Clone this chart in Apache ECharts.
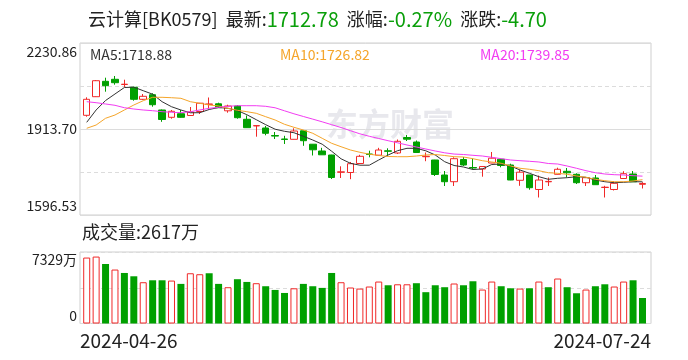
<!DOCTYPE html>
<html><head><meta charset="utf-8">
<script src="https://cdn.jsdelivr.net/npm/echarts@6/dist/echarts.min.js"></script>
<style>html,body{margin:0;padding:0;background:#fff}#c{width:688px;height:360px}</style>
</head><body><div id="c"></div>
<script>
// ---------------- data ----------------
const stockName = '云计算[BK0579]';
const latestPrice = '1712.78';
const changePct = '-0.27%';
const changeAmt = '-4.70';
const lastVolumeText = '2617万';

const dates = ['2024-04-26','2024-04-29','2024-04-30','2024-05-06','2024-05-07','2024-05-08','2024-05-09','2024-05-10',
 '2024-05-13','2024-05-14','2024-05-15','2024-05-16','2024-05-17','2024-05-20','2024-05-21','2024-05-22','2024-05-23','2024-05-24',
 '2024-05-27','2024-05-28','2024-05-29','2024-05-30','2024-05-31','2024-06-03','2024-06-04','2024-06-05','2024-06-06','2024-06-07',
 '2024-06-11','2024-06-12','2024-06-13','2024-06-14','2024-06-17','2024-06-18','2024-06-19','2024-06-20','2024-06-21',
 '2024-06-24','2024-06-25','2024-06-26','2024-06-27','2024-06-28','2024-07-01','2024-07-02','2024-07-03','2024-07-04','2024-07-05',
 '2024-07-08','2024-07-09','2024-07-10','2024-07-11','2024-07-12','2024-07-15','2024-07-16','2024-07-17','2024-07-18','2024-07-19',
 '2024-07-22','2024-07-23','2024-07-24'];

const opens = [1964.2,2032.8,2089.6,2097.0,2077.8,2067.5,2023.2,2040.2,1983.8,1956.8,
 1970.1,1963.5,1978.2,2004.4,2006.6,1980.8,1998.5,1949.5,1925.1,1917.4,
 1889.7,1876.8,1875.7,1907.1,1857.6,1832.6,1817.8,1754.0,1753.3,1786.5,
 1821.5,1817.1,1833.3,1825.2,1882.3,1865.7,1811.5,1799.4,1744.0,1719.3,
 1801.2,1771.7,1766.2,1788.3,1802.3,1780.9,1724.5,1744.0,1690.6,1719.0,
 1746.6,1757.7,1746.6,1715.6,1733.0,1697.9,1690.6,1731.1,1747.7,1709.7];
const closes = [2023.2,2091.8,2073.4,2084.4,2078.9,2023.2,2034.3,2003.3,1948.7,1979.0,
 1956.8,1976.4,2008.8,2005.9,1992.2,1998.5,1955.4,1918.5,1926.2,1897.8,
 1887.5,1875.3,1906.3,1870.5,1837.0,1818.5,1734.8,1755.8,1785.7,1813.0,
 1819.6,1836.2,1831.5,1868.3,1876.1,1827.0,1813.0,1745.9,1719.3,1804.2,
 1780.9,1769.9,1775.4,1806.0,1779.1,1725.6,1754.4,1697.2,1725.6,1720.4,
 1765.1,1752.2,1715.6,1734.1,1708.3,1699.1,1713.4,1748.8,1719.0,1712.78];
const lows = [1959.1,2031.7,2051.3,2077.1,2068.6,2018.1,2020.6,1995.9,1940.2,1951.7,
 1955.4,1962.7,1969.0,1986.7,1991.1,1973.8,1951.7,1917.8,1885.3,1890.5,
 1876.8,1858.4,1875.0,1851.7,1816.0,1818.0,1729.3,1733.0,1728.6,1786.0,
 1809.3,1816.6,1815.2,1821.5,1869.4,1826.5,1794.9,1740.4,1703.5,1703.5,
 1777.2,1764.3,1737.8,1787.8,1772.4,1725.0,1704.2,1689.8,1661.1,1703.5,
 1746.0,1735.6,1710.9,1703.5,1707.8,1661.1,1686.9,1730.6,1718.5,1694.3];
const highs = [2030.6,2094.4,2102.9,2109.2,2095.5,2069.7,2042.8,2045.4,1985.6,1983.8,
 1983.8,1994.8,2009.6,2029.9,2010.7,2003.3,2001.1,1963.5,1926.6,1924.8,
 1902.6,1888.6,1916.3,1907.5,1858.0,1844.3,1818.5,1776.1,1792.0,1818.5,
 1833.7,1844.3,1842.5,1875.0,1891.6,1871.3,1827.0,1799.8,1758.8,1809.3,
 1810.4,1804.9,1775.8,1828.9,1802.7,1785.7,1762.5,1744.4,1742.2,1734.8,
 1771.0,1769.9,1750.3,1735.6,1744.0,1704.2,1721.9,1758.0,1758.8,1717.5];

// volume in 万
const volumes = [6760,6860,6100,5530,5180,4840,4230,4430,4430,4400,
 4060,5150,5050,5150,4060,3720,4540,4260,4130,3820,
 3440,3130,3610,4060,3820,3650,5180,4230,3690,3580,
 3790,4300,3920,4020,4020,4130,3210,3920,3720,4100,
 3920,4330,3480,4300,3820,3610,3580,3610,4300,3720,
 4610,3720,3100,3480,3820,4020,3790,4300,4430,2617];
// volume bar colour as seen: 1 = red (hollow), 0 = green
const volUp = [1,1,0,1,0,0,1,0,0,1, 0,1,1,0,0,1,0,0,1,0, 0,0,1,0,0,0,0,1,1,1,
 1,1,0,1,1,0,0,0,0,1, 0,0,1,1,0,0,1,0,1,0, 1,0,0,1,0,0,1,1,0,0];

const ma5 = [1938.4,1983.8,2018.8,2042.8,2066.7,2067.9,2054.9,2042.0,2014.4,1995.9,
 1983.8,1973.4,1973.8,1985.6,1993.0,1990.0,1981.9,1966.4,1948.0,1929.6,
 1913.0,1905.2,1900.0,1886.8,1873.1,1857.6,1831.8,1803.8,1787.2,1780.2,
 1780.2,1799.4,1817.8,1833.7,1842.5,1842.5,1833.3,1817.8,1793.1,1779.1,
 1773.5,1764.3,1766.2,1782.8,1784.6,1777.2,1762.5,1750.3,1737.8,1728.2,
 1731.9,1734.1,1737.8,1735.6,1725.6,1719.3,1715.6,1717.1,1719.3,1718.88];
const ma10 = [1916.3,1928.4,1953.2,1965.3,1983.8,2002.2,2018.1,2030.6,2030.6,2029.1,
 2026.9,2014.4,2008.5,2002.2,1998.5,1990.0,1982.7,1977.5,1971.6,1959.1,
 1946.9,1931.0,1920.0,1910.0,1897.8,1879.4,1861.0,1848.4,1836.2,1827.8,
 1820.8,1816.0,1812.3,1811.5,1811.5,1814.1,1817.8,1819.6,1816.0,1811.5,
 1810.4,1804.2,1796.8,1792.0,1787.2,1777.2,1768.8,1765.1,1759.9,1752.5,
 1750.3,1746.6,1740.4,1735.6,1728.2,1723.0,1719.3,1719.3,1721.9,1726.82];
const ma20 = [2014.4,2010.7,2005.9,2001.1,1992.2,1987.4,1983.8,1981.2,1977.5,1975.3,
 1973.8,1977.5,1983.8,1990.0,1993.7,1997.4,1999.6,1999.6,1999.6,1997.4,
 1992.0,1980.8,1969.8,1959.8,1950.1,1940.2,1929.6,1919.2,1907.4,1896.0,
 1886.8,1878.7,1870.5,1862.8,1854.7,1847.3,1839.9,1832.6,1825.9,1821.3,
 1819.6,1816.7,1814.1,1809.3,1804.2,1799.4,1796.8,1794.6,1792.0,1786.5,
 1784.6,1777.2,1768.8,1759.9,1752.5,1747.7,1745.2,1744.0,1741.5,1739.85];

const priceTickLabels = ['1596.53','1913.70','2230.86'];
const volTickLabels = ['0','7329万'];
const priceMin = 1596.53, priceMax = 2230.86;
const volMin = 0, volMax = 7329;

// ---------------- chart ----------------
const FONT = '"Noto Sans CJK SC","Microsoft YaHei",sans-serif';
const RED = '#f02828', GREEN = '#00a000';
const C5 = '#333333', C10 = '#f5a52a', C20 = '#f23cf2';
const GRID_LINE = '#dcdcdc', BORDER = '#cfcfcf';

const candleData = opens.map((o, i) => [o, closes[i], lows[i], highs[i]]);
const volData = volumes.map((v, i) => ({
  value: v,
  itemStyle: volUp[i] ? {color: '#ffffff', borderColor: RED, borderWidth: 1} : {color: GREEN, borderColor: GREEN, borderWidth: 0}
}));
const last = a => a[a.length - 1].toFixed(2);

const chart = echarts.init(document.getElementById('c'), null, {renderer: 'canvas'});
const hiddenX = gi => ({gridIndex: gi, type: 'category', data: dates, show: false});
const hiddenY = (gi, mn, mx) => ({gridIndex: gi, type: 'value', min: mn, max: mx, show: false, splitLine: {show: false}});
const dash = [4, 3];

const priceLabelFmt = v => {
  const r = (v - priceMin) / (priceMax - priceMin);
  if (Math.abs(r) < 0.01) return '{b|' + priceTickLabels[0] + '}';
  if (Math.abs(r - 0.5) < 0.01) return '{m|' + priceTickLabels[1] + '}';
  if (Math.abs(r - 1) < 0.01) return '{t|' + priceTickLabels[2] + '}';
  return '';
};
const volLabelFmt = v => {
  const r = (v - volMin) / (volMax - volMin);
  if (Math.abs(r) < 0.01) return '{b|' + volTickLabels[0] + '}';
  if (Math.abs(r - 1) < 0.01) return '{t|' + volTickLabels[1] + '}';
  return '';
};
const lblRich = (fs, pad) => ({
  t: {fontSize: fs, fontFamily: FONT, color: '#222', padding: [pad, 0, 0, 0]},
  m: {fontSize: fs, fontFamily: FONT, color: '#222'},
  b: {fontSize: fs, fontFamily: FONT, color: '#222', padding: [0, 0, pad, 0]}
});
const tStyle = (fs, color) => ({fontSize: fs, fontWeight: 'normal', fontFamily: FONT, color: color});

const option = {
  animation: false,
  backgroundColor: '#ffffff',
  title: [
    {left: 88, top: 9, padding: 0,
     text: '{k|' + stockName + '  最新:}{g|' + latestPrice + '}{k|  涨幅:}{g|' + changePct + '}{k|  涨跌:}{g|' + changeAmt + '}',
     textStyle: {fontWeight: 'normal', rich: {k: tStyle(18, '#222'), g: tStyle(20, '#0a9f0a')}}},
    {left: 90, top: 48, padding: 0, text: 'MA5:' + last(ma5), textStyle: tStyle(14, C5)},
    {left: 280, top: 48, padding: 0, text: 'MA10:' + last(ma10), textStyle: tStyle(14, C10)},
    {left: 480, top: 48, padding: 0, text: 'MA20:' + last(ma20), textStyle: tStyle(14, C20)},
    {left: 82, top: 223, padding: 0, text: '成交量:' + lastVolumeText, textStyle: tStyle(18, '#222')}
  ],
  graphic: [
    {type: 'text', left: 326, top: 108, z: 0, silent: true,
     style: {text: '东方财富', font: 'bold 32px ' + FONT, fill: 'rgba(200,200,212,0.42)'}}
  ],
  grid: [
    {left: 80, right: 37, top: 43, height: 172, show: true, borderColor: BORDER, borderWidth: 1, backgroundColor: 'transparent'},
    {left: 82, width: 565.2, top: 43, height: 172},
    {left: 80, right: 37, top: 252, height: 71.5, show: true, borderColor: BORDER, borderWidth: 1, backgroundColor: 'transparent'},
    {left: 82, width: 565.2, top: 252, height: 71.5}
  ],
  xAxis: [
    hiddenX(0), hiddenX(1),
    {gridIndex: 2, type: 'category', data: dates, boundaryGap: false,
     axisLine: {show: false}, axisTick: {show: false}, splitLine: {show: false},
     axisLabel: {interval: (i) => i === 0 || i === dates.length - 1, alignMinLabel: 'left', alignMaxLabel: 'right',
       fontSize: 19, fontFamily: FONT, color: '#222', margin: 8}},
    hiddenX(3)
  ],
  yAxis: [
    {gridIndex: 0, type: 'value', min: priceMin, max: priceMax, interval: (priceMax - priceMin) / 4,
     axisLine: {show: false}, axisTick: {show: false}, axisLabel: {show: false},
     splitLine: {show: true, lineStyle: {color: GRID_LINE, type: dash, width: 1}}},
    {gridIndex: 0, type: 'value', min: priceMin, max: priceMax, interval: (priceMax - priceMin) / 2, position: 'left',
     axisLine: {show: false}, axisTick: {show: false},
     axisLabel: {formatter: priceLabelFmt, margin: 3, rich: lblRich(14, 18)},
     splitLine: {show: true, lineStyle: {color: GRID_LINE, type: 'solid', width: 1}}},
    hiddenY(1, priceMin, priceMax),
    {gridIndex: 2, type: 'value', min: volMin, max: volMax, interval: (volMax - volMin) / 2,
     axisLine: {show: false}, axisTick: {show: false},
     axisLabel: {formatter: volLabelFmt, margin: 3, rich: lblRich(14, 16)},
     splitLine: {show: true, lineStyle: {color: GRID_LINE, type: dash, width: 1}}},
    hiddenY(3, volMin, volMax)
  ],
  series: [
    {type: 'candlestick', xAxisIndex: 1, yAxisIndex: 2, data: candleData, barWidth: 7, z: 3,
     itemStyle: {color: '#ffffff', color0: GREEN, borderColor: RED, borderColor0: GREEN, borderWidth: 1}},
    {type: 'line', xAxisIndex: 1, yAxisIndex: 2, data: ma5, symbol: 'none', z: 4, lineStyle: {color: C5, width: 1}},
    {type: 'line', xAxisIndex: 1, yAxisIndex: 2, data: ma10, symbol: 'none', z: 4, lineStyle: {color: C10, width: 1}},
    {type: 'line', xAxisIndex: 1, yAxisIndex: 2, data: ma20, symbol: 'none', z: 4, lineStyle: {color: C20, width: 1}},
    {type: 'bar', xAxisIndex: 3, yAxisIndex: 4, data: volData, barWidth: 7}
  ]
};
chart.setOption(option);
</script>
</body></html>
